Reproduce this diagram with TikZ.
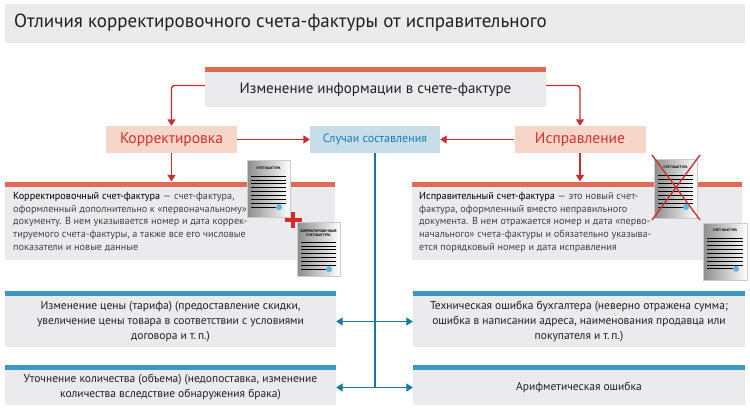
\documentclass[tikz,border=0pt]{standalone}
\usepackage{fontspec}
\setmainfont{PT Sans}
\usetikzlibrary{arrows.meta}
\definecolor{titlegray}{HTML}{EBEBEC}
\definecolor{boxgray}{HTML}{EBEBED}
\definecolor{barred}{HTML}{DE6B55}
\definecolor{arrowred}{HTML}{D12A2F}
\definecolor{peach}{HTML}{F6D6C9}
\definecolor{lightblue}{HTML}{C8DDEA}
\definecolor{txtred}{HTML}{D8302E}
\definecolor{txtblue}{HTML}{1B7EB5}
\definecolor{barblue}{HTML}{3D98C0}
\definecolor{lineblue}{HTML}{1779A8}
\definecolor{textdark}{HTML}{231F20}
\definecolor{dotblue}{HTML}{5BB5E5}
\definecolor{plusred}{HTML}{D52B2B}
\tikzset{
  graybox/.style={fill=boxgray, inner sep=0pt, draw=none},
  redbar/.style={fill=barred, inner sep=0pt, minimum height=5pt, anchor=south},
  bluebar/.style={fill=barblue, inner sep=0pt, minimum height=5pt, anchor=south},
  peachbox/.style={fill=peach, inner sep=0pt, minimum width=131pt, minimum height=27pt, text=txtred, font=\fontsize{15.5}{18}\selectfont},
  bluebox/.style={fill=lightblue, inner sep=0pt, minimum width=130pt, minimum height=27pt, text=txtblue, font=\fontsize{12}{14}\selectfont},
  redarrow/.style={draw=arrowred, line width=1.4pt, rounded corners=3pt, -{Triangle[width=8pt,length=6.5pt]}},
  bluearrow/.style={draw=lineblue, line width=1.4pt, {Triangle[width=8pt,length=6.5pt]}-{Triangle[width=8pt,length=6.5pt]}},
  blueline/.style={draw=lineblue, line width=1.4pt},
  bodytext/.style={text=textdark!85, font=\fontsize{10.2}{12.7}\selectfont, align=left, inner sep=0pt, anchor=north west},
  casetext/.style={text=textdark, font=\fontsize{11.5}{15}\selectfont, align=center},
}
\newcommand\docicon[9]{%
  \begin{scope}[shift={(#1,#2)}]
    \shade[left color=black!45, right color=white] (0,0) rectangle (#3,#4);
    \draw[black!20, line width=0.6pt] (0,0) rectangle (#3,#4);
    \node[font=\bfseries\fontsize{3.6}{4}\selectfont, align=center, inner sep=0pt, text=black] at (#3/2,#6) {#5};
    \foreach \i in {1,...,#8} {
      \draw[black, line width=0.8pt] (4,{#7+(\i-1)*#9}) -- (#3-4,{#7+(\i-1)*#9});
    }
    \draw[black, line width=0.8pt] (4,{#7+#8*#9}) -- (#3-12,{#7+#8*#9});
    \fill[dotblue] (#3-11,{#7+#8*#9}) circle (3);
  \end{scope}
}
\begin{document}
\begin{tikzpicture}[x=1pt,y=-1pt]
\useasboundingbox (0,0) rectangle (750,410);
\fill[white] (0,0) rectangle (750,410);

% title
\fill[titlegray] (5,4) rectangle (745,43);
\node[anchor=west, inner sep=0pt, text=textdark, font=\fontsize{19}{22}\selectfont] (title) at (14,23) {Отличия корректировочного счета-фактуры от исправительного};

% top box
\node[graybox, minimum width=341pt, minimum height=35pt, text=textdark, font=\fontsize{15}{18}\selectfont] (top) at (375.5,89.5) {Изменение информации в счете-фактуре};
\node[redbar, minimum width=341pt] (topbar) at (top.north) {};

% second row
\node[peachbox] (korr) at (171.5,139.5) {Корректировка};
\node[bluebox] (sluch) at (375,139.5) {Случаи составления};
\node[peachbox] (ispr) at (580,139.5) {Исправление};

\draw[redarrow] ([yshift=4pt]top.west) -| (korr.north);
\draw[redarrow] ([yshift=4pt]top.east) -| (ispr.north);
\draw[redarrow] (korr.east) -- (sluch.west);
\draw[redarrow] (ispr.west) -- (sluch.east);

% definition boxes
\node[graybox, minimum width=330pt, minimum height=73pt] (ldef) at (170,223.5) {};
\node[redbar, minimum width=330pt] (ldefbar) at (ldef.north) {};
\node[graybox, minimum width=330pt, minimum height=73pt] (rdef) at (577,223.5) {};
\node[redbar, minimum width=330pt] (rdefbar) at (rdef.north) {};

\draw[redarrow] (korr.south) -- (korr.south |- ldefbar.north);
\draw[redarrow] (ispr.south) -- (ispr.south |- rdefbar.north);

\node[bodytext] (ltext) at (13,192) {{\color{black}Корректировочный счет-фактура} — счет-фактура,\\оформленный дополнительно к «первоначальному»\\документу. В нем указывается номер и дата коррек-\\тируемого счета-фактуры, а также все его числовые\\показатели и новые данные};
\node[bodytext] (rtext) at (419,192) {{\color{black}Исправительный счет-фактура} — это новый счет-\\фактура, оформленный вместо неправильного\\документа. В нем отражается номер и дата «перво-\\начального» счета-фактуры и обязательно указыва-\\ется порядковый номер и дата исправления};

% document icons
\docicon{247}{160}{43}{57}{СЧЕТ-ФАКТУРА}{8}{16}{8}{3.9}
\docicon{297}{222}{43}{54}{КОРРЕКТИРОВОЧНЫЙ\\СЧЕТ-ФАКТУРА}{10.5}{20}{7}{3.9}
\fill[plusred] (285,218.2) rectangle (302,221.8);
\fill[plusred] (291.2,212) rectangle (294.8,228);
\docicon{654}{159}{43}{59}{СЧЕТ-ФАКТУРА}{8}{16}{8}{4}
\draw[arrowred, line width=1.3pt] (652,155) -- (700,220);
\draw[arrowred, line width=1.3pt] (700,155) -- (652,220);
\docicon{703}{223}{44}{57}{СЧЕТ-ФАКТУРА}{7}{15}{8}{3.85}

% case boxes
\node[graybox, casetext, minimum width=331pt, minimum height=51pt] (c1l) at (170.5,321.5) {Изменение цены (тарифа) (предоставление скидки,\\увеличение цены товара в соответствии с условиями\\договора и т.\,п.)};
\node[bluebar, minimum width=331pt] (c1lbar) at (c1l.north) {};
\node[graybox, casetext, minimum width=332pt, minimum height=51pt] (c1r) at (579,321.5) {Техническая ошибка бухгалтера (неверно отражена сумма;\\ошибка в написании адреса, наименования продавца или\\покупателя и т.\,п.)};
\node[bluebar, minimum width=332pt] (c1rbar) at (c1r.north) {};
\node[graybox, casetext, minimum width=331pt, minimum height=35pt] (c2l) at (170.5,387.5) {Уточнение количества (объема) (недопоставка, изменение\\количества вследствие обнаружения брака)};
\node[bluebar, minimum width=331pt] (c2lbar) at (c2l.north) {};
\node[graybox, casetext, minimum width=332pt, minimum height=35pt] (c2r) at (579,387.5) {Арифметическая ошибка};
\node[bluebar, minimum width=332pt] (c2rbar) at (c2r.north) {};

% blue connectors
\draw[blueline] (sluch.south) -- (sluch.south |- c2l.east);
\draw[bluearrow] (c1l.east) -- (c1r.west);
\draw[bluearrow] (c2l.east) -- (c2r.west);
\end{tikzpicture}
\end{document}
